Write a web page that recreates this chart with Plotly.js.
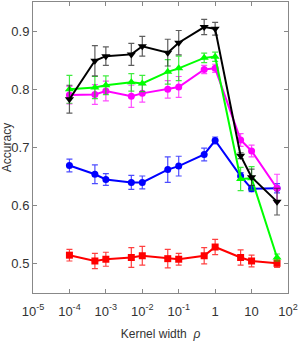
<!DOCTYPE html>
<html>
<head>
<meta charset="utf-8">
<script src="https://cdn.plot.ly/plotly-3.0.1.min.js"></script>
<style>html,body{margin:0;padding:0;background:#fff;}#chart{width:300px;height:341px;}</style>
</head>
<body>
<div id="chart"></div>
<script>
const kernelWidth = [1e-4, 5e-4, 1e-3, 5e-3, 1e-2, 5e-2, 1e-1, 0.5, 1, 5, 10, 50];

const blackAcc = [0.783, 0.849, 0.857, 0.860, 0.874, 0.863, 0.880, 0.907, 0.904, 0.686, 0.649, 0.607];
const blackErr = [0.024, 0.026, 0.016, 0.019, 0.017, 0.023, 0.021, 0.013, 0.011, 0.005, 0.014, 0.023];

const greenAcc = [0.800, 0.803, 0.807, 0.812, 0.810, 0.830, 0.836, 0.854, 0.856, 0.646, 0.647, 0.511];
const greenErr = [0.024, 0.019, 0.016, 0.015, 0.014, 0.021, 0.021, 0.008, 0.008, 0.020, 0.020, 0.006];

const magentaAcc = [0.790, 0.791, 0.797, 0.788, 0.793, 0.800, 0.804, 0.834, 0.836, 0.713, 0.694, 0.630];
const magentaErr = [0.015, 0.017, 0.017, 0.019, 0.015, 0.015, 0.018, 0.007, 0.007, 0.011, 0.010, 0.024];

const blueAcc = [0.669, 0.654, 0.645, 0.640, 0.640, 0.662, 0.668, 0.688, 0.712, 0.651, 0.629, 0.630];
const blueErr = [0.011, 0.016, 0.010, 0.012, 0.011, 0.022, 0.017, 0.011, 0.006, 0.006, 0.005, 0.008];

const redAcc = [0.515, 0.505, 0.508, 0.511, 0.514, 0.509, 0.508, 0.514, 0.529, 0.511, 0.505, 0.501];
const redErr = [0.010, 0.013, 0.012, 0.017, 0.016, 0.016, 0.010, 0.014, 0.013, 0.013, 0.010, 0.007];

const xTickVals = [1e-5, 1e-4, 1e-3, 1e-2, 1e-1, 1, 10, 100];
const xTickText = ['10<sup>-5</sup>', '10<sup>-4</sup>', '10<sup>-3</sup>', '10<sup>-2</sup>', '10<sup>-1</sup>', '1', '10', '10<sup>2</sup>'];
const yTickVals = [0.5, 0.6, 0.7, 0.8, 0.9];
const yTickText = ['0.5', '0.6', '0.7', '0.8', '0.9'];

function series(y, err, color, errColor, symbol, size) {
  return {
    x: kernelWidth, y: y, type: 'scatter', mode: 'lines+markers',
    line: {color: color, width: 2},
    marker: {color: color, symbol: symbol, size: size},
    error_y: {type: 'data', array: err, visible: true, color: errColor, thickness: 1.2, width: 3},
    showlegend: false
  };
}

const data = [
  series(redAcc, redErr, '#ff0000', 'rgba(255,0,0,0.75)', 'square', 7),
  series(blueAcc, blueErr, '#0000ff', 'rgba(0,0,255,0.7)', 'circle', 7),
  series(magentaAcc, magentaErr, '#ff00ff', 'rgba(255,0,255,0.7)', 'circle', 7),
  series(greenAcc, greenErr, '#00ff00', 'rgba(0,230,0,0.75)', 'triangle-up', 8),
  series(blackAcc, blackErr, '#000000', 'rgba(40,40,40,0.75)', 'triangle-down', 8)
];

const fam = 'Liberation Sans, Arial, sans-serif';

const layout = {
  width: 300, height: 341,
  margin: {l: 33, r: 12, t: 2, b: 48},
  paper_bgcolor: '#fff', plot_bgcolor: '#fff',
  font: {family: fam, color: '#262626', size: 12},
  xaxis: {
    type: 'log', range: [-5, 2], automargin: false,
    tickvals: xTickVals, ticktext: xTickText,
    ticks: 'inside', ticklen: 4, tickcolor: '#888', tickwidth: 1,
    showline: true, linecolor: '#888', linewidth: 1, mirror: 'allticks',
    showgrid: false, zeroline: false,
    tickfont: {size: 13, color: '#333', family: fam},
    ticklabelstandoff: 6,
    title: {text: 'Kernel width  <i>ρ</i>', font: {size: 12, color: '#333', family: fam}, standoff: 12}
  },
  yaxis: {
    range: [0.45, 0.95], automargin: false,
    tickvals: yTickVals, ticktext: yTickText,
    ticks: 'inside', ticklen: 4, tickcolor: '#888', tickwidth: 1,
    showline: true, linecolor: '#888', linewidth: 1, mirror: 'allticks',
    showgrid: false, zeroline: false,
    tickfont: {size: 13, color: '#333', family: fam},
    title: {text: 'Accuracy', font: {size: 12, color: '#333', family: fam}, standoff: 4}
  }
};

Plotly.newPlot('chart', data, layout, {displayModeBar: false, staticPlot: true});
</script>
</body>
</html>
